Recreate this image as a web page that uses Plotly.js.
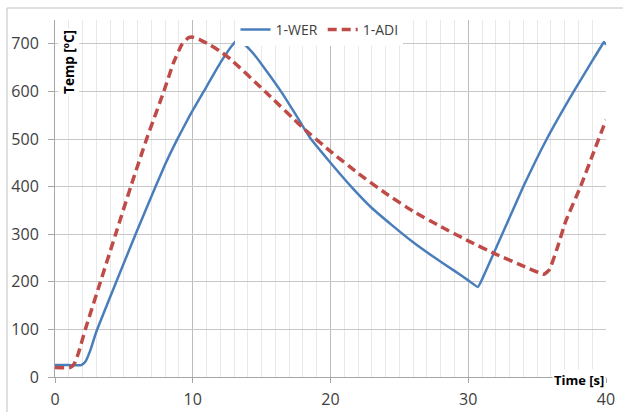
<!DOCTYPE html>
<html>
<head>
<meta charset="utf-8">
<script src="https://cdn.plot.ly/plotly-3.0.1.min.js"></script>
<style>
html,body{margin:0;padding:0;background:#fff;}
#chart{width:623px;height:412px;}
</style>
</head>
<body>
<div id="chart"></div>
<script>
// Series names
const seriesNames = ["1-WER", "1-ADI"];

// 1-WER (solid blue)
const werTime = [0, 1.0, 1.9, 2.2, 2.55, 3.0, 4.45, 5.85, 6.6, 7.3, 8.0, 8.8, 9.8, 10.8, 12.0, 12.9, 13.25, 13.7, 14.5, 15.5, 16.4, 17.5, 18.5, 20.0, 21.5, 23.0, 24.5, 26.0, 27.5, 29.0, 30.0, 30.7, 31.0, 31.85, 33.0, 34.0, 35.7, 37.66, 39.0, 39.7, 39.85, 40.0];
const werTemp = [25, 25, 25, 32, 55, 95, 200, 300, 352, 400, 447, 495, 550, 600, 660, 698, 708, 700, 676, 637, 600, 550, 503, 450, 400, 355, 318, 283, 252, 223, 203, 189, 205, 260, 335, 400, 500, 600, 664, 697, 704, 698];

// 1-ADI (dashed red)
const adiTime = [0, 1.1, 1.4, 1.7, 2.2, 3.3, 4.4, 5.5, 6.65, 7.9, 8.6, 9.2, 9.7, 10.0, 10.5, 11.3, 12.0, 12.73, 15.25, 17.94, 20.0, 22.0, 24.0, 26.0, 28.0, 30.0, 32.0, 34.0, 35.5, 35.9, 36.45, 37.06, 38.15, 39.1, 40.0];
const adiTemp = [20, 20, 28, 50, 100, 200, 300, 400, 500, 600, 660, 698, 713, 714, 709, 697, 684, 668, 600, 525, 474, 428, 386, 348, 316, 286, 258, 233, 216, 226, 270, 326, 400, 472, 540];

// Axis ticks
const xTicks = [0, 10, 20, 30, 40];
const yTicks = [0, 100, 200, 300, 400, 500, 600, 700];

const traces = [
  {x: werTime, y: werTemp, name: seriesNames[0], type: "scatter", mode: "lines",
   line: {color: "#4a7ebb", width: 2.5, shape: "spline", smoothing: 0.4}},
  {x: adiTime, y: adiTemp, name: seriesNames[1], type: "scatter", mode: "lines",
   line: {color: "#be4b48", width: 3.5, dash: "9px,5px", shape: "spline", smoothing: 0.4}}
];

const tickFont = {family: "Open Sans, Noto Sans, sans-serif", size: 16, color: "#404040"};

const layout = {
  width: 623, height: 412,
  margin: {l: 55, r: 17, t: 20, b: 35},
  paper_bgcolor: "#ffffff", plot_bgcolor: "#ffffff",
  showlegend: true,
  legend: {orientation: "h", x: 0.48, xanchor: "center", y: 0.972, yanchor: "middle",
           bgcolor: "#ffffff", font: {family: "Open Sans, Noto Sans, sans-serif", size: 14, color: "#404040"},
           itemwidth: 30, tracegroupgap: 0},
  xaxis: {range: [0, 40], tickvals: xTicks, ticktext: xTicks.map(String),
          showgrid: true, gridcolor: "#bcbcbc", gridwidth: 1,
          minor: {dtick: 1, showgrid: true, gridcolor: "#e8e8e8", gridwidth: 1},
          showline: true, linecolor: "#a6a6a6", linewidth: 1, zeroline: false,
          ticks: "outside", ticklen: 5, tickcolor: "#a6a6a6",
          tickfont: tickFont, ticklabelstandoff: 3, fixedrange: true},
  yaxis: {range: [0, 750], tickvals: yTicks, ticktext: yTicks.map(String),
          showgrid: true, gridcolor: "#c8c8c8", gridwidth: 1,
          showline: true, linecolor: "#a6a6a6", linewidth: 1, zeroline: false,
          ticks: "outside", ticklen: 6, tickcolor: "#a6a6a6",
          tickfont: tickFont, ticklabelstandoff: 6, fixedrange: true},
  annotations: [
    {text: "<b>Temp [ºC]</b>", xref: "paper", yref: "paper", x: 0.025, y: 0.882,
     xanchor: "center", yanchor: "middle", textangle: -90, showarrow: false,
     bgcolor: "#ffffff", font: {family: "Open Sans, Noto Sans, sans-serif", size: 13.5, color: "#000000"}},
    {text: "<b>Time [s]</b>", xref: "paper", yref: "paper", x: 1.0, y: -0.008,
     xanchor: "right", yanchor: "middle", showarrow: false,
     bgcolor: "#ffffff", font: {family: "Open Sans, Noto Sans, sans-serif", size: 13, color: "#000000"}}
  ],
  shapes: [
    {type: "rect", xref: "paper", yref: "paper", x0: -0.0871, x1: 1.05, y0: -0.13, y1: 1.0336,
     line: {color: "#bfbfbf", width: 1}, fillcolor: "rgba(0,0,0,0)", layer: "above"}
  ]
};

Plotly.newPlot("chart", traces, layout, {displayModeBar: false, staticPlot: true});
</script>
</body>
</html>
